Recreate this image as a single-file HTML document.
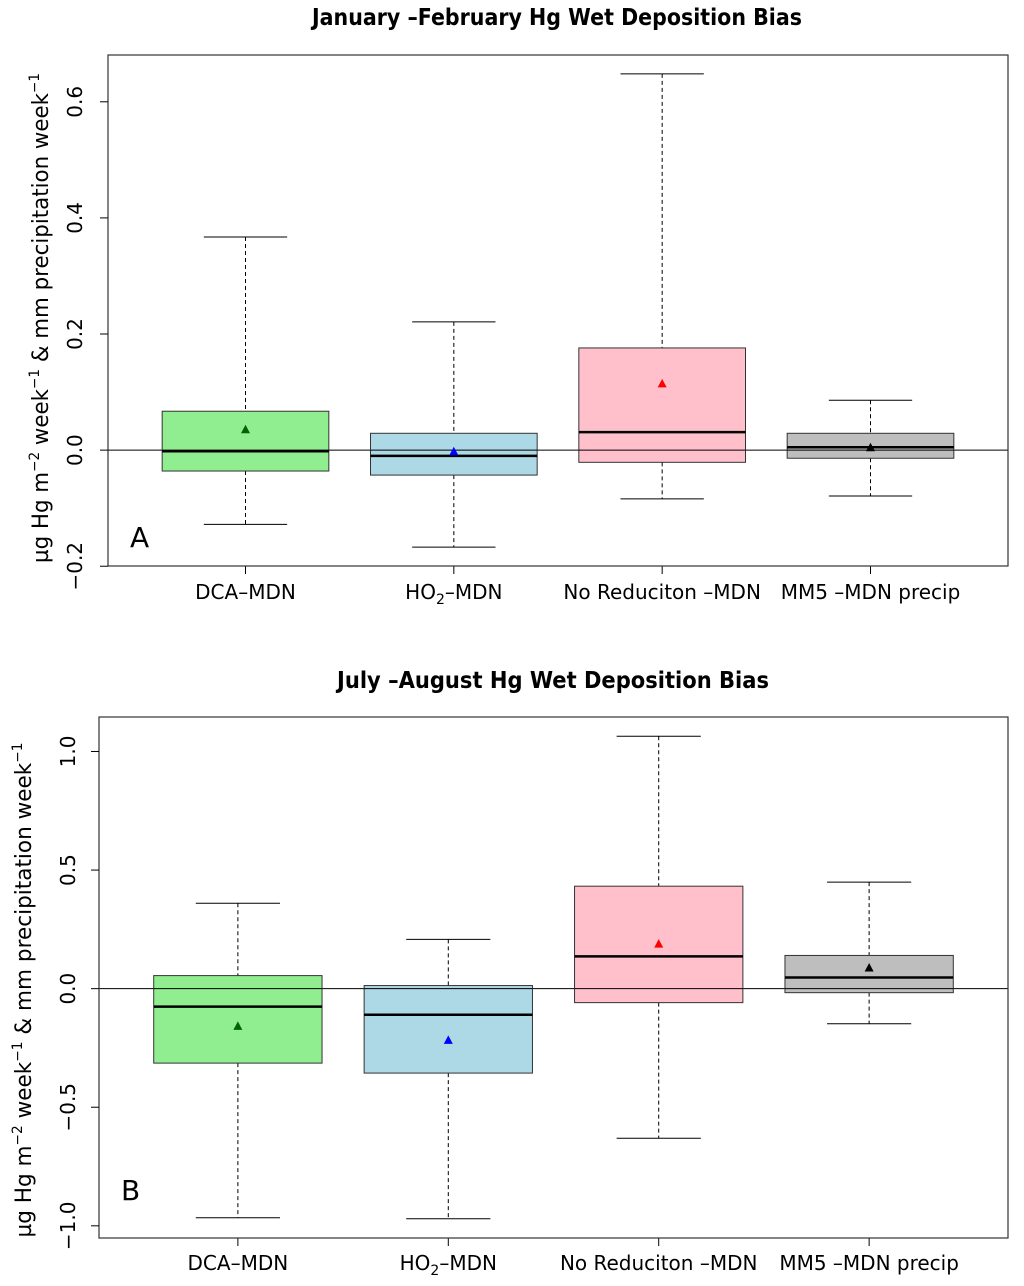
<!DOCTYPE html>
<html><head><meta charset="utf-8">
<style>
html,body{margin:0;padding:0;background:#fff;}
svg{display:block;font-family:"DejaVu Sans","Liberation Sans",sans-serif;}
</style></head>
<body>
<svg id="chart" width="1024" height="1286" viewBox="0 0 1024 1286" xmlns="http://www.w3.org/2000/svg"></svg>
<script>
// ---- Data ----
const categories = ["DCA\u2013MDN", "HO2\u2013MDN", "No Reduciton \u2013MDN", "MM5 \u2013MDN precip"];
const fills = ["#90EE90", "#ADD8E6", "#FFC0CB", "#BEBEBE"];
const meanColors = ["#006400", "#0000FF", "#FF0000", "#000000"];
// Panel A (Jan-Feb)
const aWhiskerHigh = [0.367, 0.221, 0.648, 0.086];
const aQ3 = [0.067, 0.029, 0.176, 0.029];
const aMedian = [-0.002, -0.010, 0.031, 0.005];
const aQ1 = [-0.036, -0.043, -0.021, -0.014];
const aWhiskerLow = [-0.128, -0.167, -0.084, -0.079];
const aMean = [0.036, -0.002, 0.115, 0.005];
const aTicks = [-0.2, 0.0, 0.2, 0.4, 0.6];
const aTickLabels = ["\u22120.2", "0.0", "0.2", "0.4", "0.6"];
// Panel B (Jul-Aug)
const bWhiskerHigh = [0.360, 0.208, 1.064, 0.449];
const bQ3 = [0.055, 0.013, 0.432, 0.140];
const bMedian = [-0.076, -0.110, 0.136, 0.047];
const bQ1 = [-0.314, -0.356, -0.059, -0.017];
const bWhiskerLow = [-0.966, -0.970, -0.631, -0.148];
const bMean = [-0.157, -0.216, 0.190, 0.089];
const bTicks = [-1.0, -0.5, 0.0, 0.5, 1.0];
const bTickLabels = ["\u22121.0", "\u22120.5", "0.0", "0.5", "1.0"];

const NS = "http://www.w3.org/2000/svg";
const svg = document.getElementById("chart");
function mk(tag, attrs, parent) {
  const e = document.createElementNS(NS, tag);
  for (const k in attrs) e.setAttribute(k, attrs[k]);
  (parent || svg).appendChild(e);
  return e;
}

function panel(cfg) {
  const g = mk("g", {});
  
  
  const {L, R, T, B} = cfg;
  const n = cfg.q3.length;
  const lo = Math.min(...cfg.low), hi = Math.max(...cfg.high);
  const pad = (hi - lo) * 0.04;
  const y0 = lo - pad, y1 = hi + pad;
  const y = v => B - (v - y0) / (y1 - y0) * (B - T);
  const xs = (R - L) / (n * 1.08);
  const x = i => L + (R - L) * 0.04 / 1.08 + xs * (i + 0.5);
  const bw = xs * 0.8, cw = xs * 0.4;

  const t = mk("text", {x: cfg.titleX, y: cfg.titleY, "text-anchor": "middle", "font-weight": "bold", "font-size": 23, textLength: cfg.titleLen, lengthAdjust: "spacingAndGlyphs"}, g);
  t.textContent = cfg.title;
  
  

  const z = mk("line", {x1: L, x2: R, y1: y(0), y2: y(0), stroke: "#000", "stroke-width": 1}, g);
  
  

  for (let i = 0; i < n; i++) {
    const bg = mk("g", {}, g);
    
    
    const cx = x(i);
    mk("line", {x1: cx, x2: cx, y1: y(cfg.high[i]), y2: y(cfg.q3[i]), stroke: "#000", "stroke-dasharray": "4,3", "stroke-width": 1}, bg);
    mk("line", {x1: cx, x2: cx, y1: y(cfg.q1[i]), y2: y(cfg.low[i]), stroke: "#000", "stroke-dasharray": "4,3", "stroke-width": 1}, bg);
    mk("line", {x1: cx - cw / 2, x2: cx + cw / 2, y1: y(cfg.high[i]), y2: y(cfg.high[i]), stroke: "#000", "stroke-width": 1}, bg);
    mk("line", {x1: cx - cw / 2, x2: cx + cw / 2, y1: y(cfg.low[i]), y2: y(cfg.low[i]), stroke: "#000", "stroke-width": 1}, bg);
    mk("rect", {x: cx - bw / 2, y: y(cfg.q3[i]), width: bw, height: y(cfg.q1[i]) - y(cfg.q3[i]), fill: fills[i], stroke: "#333", "stroke-width": 1}, bg);
    mk("line", {x1: cx - bw / 2, x2: cx + bw / 2, y1: y(0), y2: y(0), stroke: "#000", "stroke-width": 1}, bg);
    mk("line", {x1: cx - bw / 2, x2: cx + bw / 2, y1: y(cfg.med[i]), y2: y(cfg.med[i]), stroke: "#000", "stroke-width": 2.5}, bg);
    const my = y(cfg.mean[i]);
    const tri = mk("polygon", {points: `${cx - 4.5},${my + 4} ${cx + 4.5},${my + 4} ${cx},${my - 4.5}`, fill: meanColors[i]}, bg);
    
    
    mk("line", {x1: cx, x2: cx, y1: B, y2: B + 8, stroke: "#000"}, g);
    const lab = mk("text", {x: cx, y: cfg.catY, "text-anchor": "middle", "font-size": 20}, g);
    
    
    if (categories[i].startsWith("HO2")) {
      lab.appendChild(document.createTextNode("HO"));
      const s = mk("tspan", {"font-size": 14, dy: 5}, lab); s.textContent = "2";
      const r = mk("tspan", {dy: -5}, lab); r.textContent = "\u2013MDN";
    } else lab.textContent = categories[i];
  }

  const fr = mk("rect", {x: L, y: T, width: R - L, height: B - T, fill: "none", stroke: "#333", "stroke-width": 1.2}, g);
  
  

  cfg.ticks.forEach((v, k) => {
    mk("line", {x1: L - 8, x2: L, y1: y(v), y2: y(v), stroke: "#000"}, g);
    const tl = mk("text", {x: cfg.tickX, y: y(v), "text-anchor": "middle", "font-size": 20, transform: `rotate(-90 ${cfg.tickX} ${y(v)})`, dy: 7}, g);
    tl.textContent = cfg.tickLabels[k];
    
    
  });

  const cy = cfg.yTitleC;
  const yt = mk("text", {x: cfg.yTitleX, y: cy, "text-anchor": "middle", "font-size": 22, transform: `rotate(-90 ${cfg.yTitleX} ${cy})`, textLength: cfg.yTitleLen, lengthAdjust: "spacingAndGlyphs"}, g);
  
  
  yt.appendChild(document.createTextNode("\u00b5g Hg m"));
  let s1 = mk("tspan", {"font-size": 14, dy: -9}, yt); s1.textContent = "\u22122";
  let s2 = mk("tspan", {dy: 9}, yt); s2.textContent = " week";
  let s3 = mk("tspan", {"font-size": 14, dy: -9}, yt); s3.textContent = "\u22121";
  let s4 = mk("tspan", {dy: 9}, yt); s4.textContent = " & mm precipitation week";
  let s5 = mk("tspan", {"font-size": 14, dy: -9}, yt); s5.textContent = "\u22121";

  const pl = mk("text", {x: cfg.letterX, y: cfg.letterY, "font-size": 28}, g);
  pl.textContent = cfg.letter;
  
  
}

panel({name: "panel-a-jan-feb", L: 108, R: 1008, T: 55, B: 566,
  high: aWhiskerHigh, q3: aQ3, med: aMedian, q1: aQ1, low: aWhiskerLow, mean: aMean,
  ticks: aTicks, tickLabels: aTickLabels, tickX: 75,
  title: "January \u2013February Hg Wet Deposition Bias", titleX: 557, titleY: 25, titleLen: 490,
  catY: 599, yTitleX: 48, yTitleC: 318, yTitleLen: 490, letter: "A", letterX: 130, letterY: 547});

panel({name: "panel-b-jul-aug", L: 99, R: 1008, T: 717, B: 1238,
  high: bWhiskerHigh, q3: bQ3, med: bMedian, q1: bQ1, low: bWhiskerLow, mean: bMean,
  ticks: bTicks, tickLabels: bTickLabels, tickX: 68,
  title: "July \u2013August Hg Wet Deposition Bias", titleX: 553, titleY: 688, titleLen: 432,
  catY: 1270, yTitleX: 31, yTitleC: 990, yTitleLen: 495, letter: "B", letterX: 121, letterY: 1200});
</script>
</body></html>
